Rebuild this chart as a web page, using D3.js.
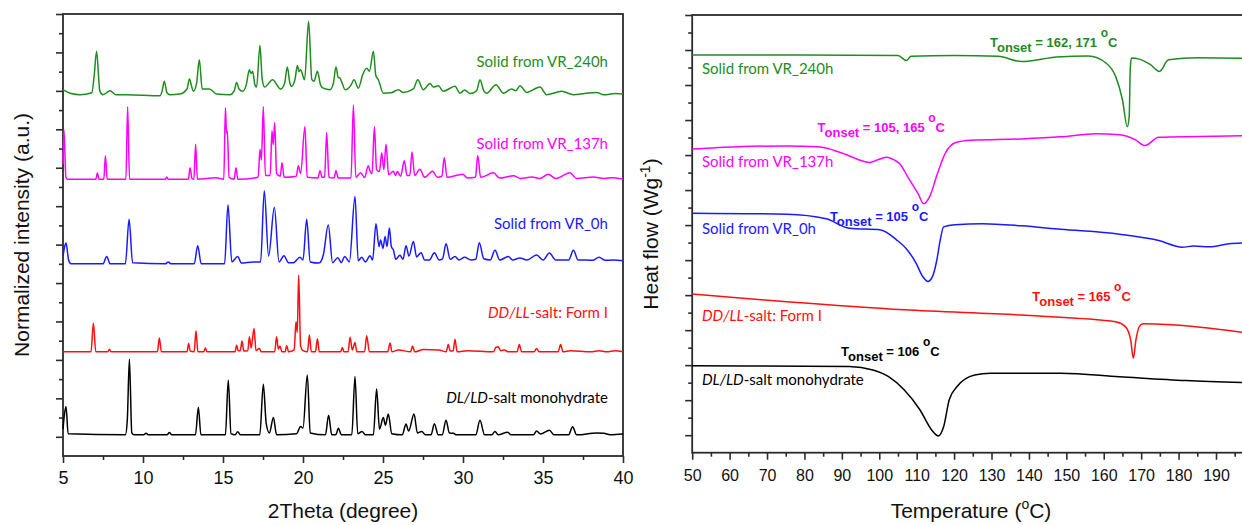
<!DOCTYPE html>
<html>
<head>
<meta charset="utf-8">
<script src="https://cdn.jsdelivr.net/npm/d3@7"></script>
<style>
  body { margin: 0; background: #fff; }
  text { font-family: Arial, "Liberation Sans", sans-serif; }
  .lbl { font-family: Lato, "Open Sans", sans-serif; }
</style>
</head>
<body>
<svg id="chart" width="1242" height="525"></svg>
<script>
'use strict';

// ---- XRD data: [2theta, intensity above the trace baseline] ----
const xrdBlack = [[5,1.5],[5.08,5],[5.19,7.4],[5.32,0.3],[8.9,0],[9.02,4],[9.15,19.7],[9.3,0.5],[9.45,0],[10.05,0],[10.19,0.4],[10.35,0],[11.5,0],[11.65,0.6],[11.8,0],[13.28,0],[13.46,7.2],[13.62,0],[15.15,0],[15.33,14.3],[15.5,0.3],[15.75,0],[15.92,0.8],[16.1,0],[17.3,0],[17.52,13.2],[17.7,3],[17.9,0.5],[18.15,4.5],[18.35,0],[19.6,0.3],[19.85,2.2],[20.0,1.8],[20.27,15.6],[20.45,0.5],[21.4,0],[21.6,5.1],[21.8,0],[22.05,0],[22.21,1.7],[22.4,0],[23.05,0],[23.25,15.2],[23.42,0.3],[23.69,0.9],[23.9,0],[24.4,0],[24.6,11.9],[24.78,1.5],[25.02,4.5],[25.15,2.5],[25.33,5.4],[25.55,0.3],[26.2,0],[26.44,2.8],[26.6,1.0],[26.94,5.4],[27.15,0.5],[27.42,0.9],[27.65,0],[28.0,0],[28.21,2.9],[28.45,0],[28.7,0],[28.94,3.8],[29.15,0.5],[29.4,0.4],[29.6,0],[30.8,0],[31.06,3.8],[31.35,0],[31.8,0],[32.0,0.9],[32.2,0],[32.79,0.7],[33.0,0],[34.4,0],[34.6,1.0],[34.85,0.2],[35.4,1.2],[35.7,0],[36.6,0],[36.85,2.1],[37.1,0],[38.35,0.5],[38.8,0.4],[39.2,0],[40,0.2]];

const xrdRed = [[5,0],[6.75,0],[6.9,7.5],[7.05,0],[7.8,0],[7.9,0.7],[8.0,0],[10.9,0],[11.02,3.6],[11.15,0],[12.75,0],[12.85,2.2],[12.95,0.2],[13.2,0],[13.31,5.5],[13.43,0],[13.8,0],[13.9,1.0],[14.0,0],[15.75,0],[15.85,1.7],[15.95,0.3],[16.08,0.3],[16.19,2.8],[16.3,0.2],[16.55,0.3],[16.65,3.9],[16.76,1],[16.94,6.1],[17.06,0.3],[17.27,0.9],[17.4,0],[18.23,0],[18.35,3.9],[18.46,0.7],[18.56,1.5],[18.68,0],[18.88,0],[18.98,1.6],[19.1,0],[19.45,0.5],[19.56,7.8],[19.64,5],[19.73,20],[19.85,1.5],[20.0,0.3],[20.28,0],[20.4,4.4],[20.52,0],[20.78,0],[20.9,3.4],[21.02,0],[22.35,0],[22.46,1.1],[22.56,0],[22.82,0],[22.94,3.8],[23.08,0.5],[23.25,2.4],[23.37,0],[23.85,0],[23.98,4.2],[24.15,0],[25.3,0],[25.44,2.3],[25.56,0],[25.96,0.5],[26.72,0],[26.85,1.5],[26.98,0],[27.52,0.6],[28.48,0.5],[28.95,0],[29.08,1.9],[29.2,0.2],[29.38,0.2],[29.5,3.3],[29.63,0],[30.27,0.3],[31.9,0],[32.06,1.2],[32.2,1.3],[32.35,0.3],[32.6,0.5],[32.8,0],[33.38,0],[33.52,1.9],[33.66,0],[34.45,0],[34.6,0.9],[34.75,0],[35.95,0],[36.1,1.9],[36.25,0],[36.7,0.3],[38,0],[38.5,0.3],[39,0],[39.5,0.3],[40,0]];

const xrdBlue = [[5,2],[5.08,4],[5.19,5.4],[5.35,1],[5.5,0],[7.5,0],[7.73,1.9],[7.95,0],[8.9,0],[9.13,11.6],[9.35,0.3],[11.4,0],[11.58,0.5],[11.75,0],[13.2,0],[13.42,4.7],[13.64,0],[15.1,0],[15.31,15.4],[15.55,0.5],[15.92,1.9],[16.15,0.2],[16.9,0.5],[17.35,0.5],[17.58,19],[17.85,2],[18.21,14.7],[18.5,0.5],[18.81,2.1],[19.1,0.3],[19.4,0.3],[19.81,1.7],[20.0,1],[20.23,11.6],[20.45,0.5],[21.0,0.2],[21.27,2.3],[21.58,10.1],[21.85,0.3],[22.17,1.6],[22.4,0.3],[22.6,1.9],[22.9,0.5],[23.25,17.5],[23.45,0.8],[23.67,1.7],[23.9,0.5],[24.19,2.1],[24.35,1],[24.56,10.4],[24.75,4.5],[24.85,6.2],[25.0,4],[25.13,7.1],[25.25,4.5],[25.4,9.3],[25.52,4.5],[25.65,3.6],[25.8,1.2],[26.06,2.2],[26.25,1.2],[26.44,4.7],[26.62,2],[26.9,5.8],[27.1,1.8],[27.38,2.9],[27.6,1],[27.9,1],[28.21,2.9],[28.5,1],[28.72,1.3],[28.94,5.2],[29.2,1.2],[29.5,1.9],[29.75,1],[30.1,1.7],[30.5,1],[30.8,1.2],[31.02,5.5],[31.3,1.3],[31.7,1],[32.0,3.5],[32.3,1],[32.83,1.9],[33.1,1],[33.56,1.5],[34.0,1],[34.6,2.3],[35.0,1],[35.4,2.8],[35.8,1],[36.6,1],[36.9,3.5],[37.2,1],[37.7,1.0],[38.1,0.9],[38.5,1.7],[38.9,0.9],[39.4,1.0],[40,0.8]];

const xrdMagenta = [[5,4],[5.06,12.8],[5.18,0.5],[5.3,0],[7.05,0],[7.15,1.6],[7.25,0],[7.55,0],[7.65,6.1],[7.76,0],[8.93,0],[9.04,18.9],[9.16,0],[11.4,0],[11.48,0.6],[11.58,0],[12.84,0],[12.94,3.0],[13.06,0.2],[13.18,0],[13.29,9.1],[13.4,0],[14.56,0.4],[15.05,0],[15.15,18.6],[15.22,12],[15.27,12.6],[15.38,0.5],[15.7,0],[15.81,3.0],[15.92,0],[17.2,0.5],[17.31,7.8],[17.4,5],[17.52,18.9],[17.65,1],[17.95,1],[18.06,12.6],[18.14,9],[18.23,14.8],[18.35,1.5],[18.58,0.8],[18.69,4.3],[18.82,0.5],[19.58,0.8],[19.71,3.5],[19.85,1.5],[20.12,13.7],[20.26,0.5],[20.94,0.3],[21.06,2.2],[21.2,0.5],[21.35,0.5],[21.48,12.2],[21.62,0.5],[21.94,0.3],[22.06,2.2],[22.2,0.3],[23.0,0.3],[23.15,19.3],[23.3,0.5],[23.6,1.7],[23.85,0.5],[24.08,3.5],[24.2,2],[24.32,1.5],[24.46,13.7],[24.6,2.5],[24.78,2],[24.92,6.9],[25.05,2.5],[25.19,9.1],[25.35,1.2],[25.65,2.1],[25.78,1],[25.9,2.0],[26.1,0.8],[26.33,4.8],[26.5,1],[26.68,1],[26.81,7.1],[26.98,1],[27.31,2.6],[27.6,0.5],[28.1,2.1],[28.4,0.5],[28.68,0.8],[28.83,5.6],[29.0,0.5],[29.98,1.3],[30.3,0.3],[30.78,0.5],[30.92,6.2],[31.1,0.5],[31.9,1.7],[32.3,0.3],[33.15,0.9],[33.6,0.2],[34.3,0.6],[34.8,0.2],[35.33,1.3],[35.8,0.2],[36.69,1.7],[37.1,0.2],[38.15,0.6],[38.8,0.2],[39.4,0.4],[40,0]];

const xrdGreen = [[5,1.3],[5.5,0.3],[6.06,0],[6.8,0.5],[6.95,5],[7.1,11.3],[7.3,1],[7.5,0],[7.94,1.0],[8.3,0],[8.98,0],[11.06,-0.3],[11.2,1],[11.33,3.5],[11.5,0.5],[11.69,0],[12.3,0.2],[12.75,1.5],[12.9,4.1],[13.05,2],[13.15,0.9],[13.35,3],[13.52,9.1],[13.7,1.5],[14.15,1.5],[14.6,0.2],[15.44,0],[15.7,1],[15.85,3.2],[16.0,1.5],[16.23,0.9],[16.45,2.5],[16.65,6.5],[16.75,5.5],[16.85,6.1],[17.0,2.5],[17.1,2.0],[17.31,12.8],[17.45,4],[17.6,2.0],[18.1,3.9],[18.6,1.5],[18.85,3],[19.02,7.2],[19.18,3],[19.29,2.2],[19.5,4],[19.65,7.6],[19.75,6],[19.85,6.5],[20.1,3.9],[20.35,19.1],[20.55,4],[20.69,3.5],[20.9,6.1],[21.1,2.5],[21.27,1.7],[21.69,1.3],[21.9,3],[22.06,7.2],[22.2,4.5],[22.31,4.3],[22.45,3],[22.63,1.3],[23.0,2.5],[23.19,3.9],[23.46,1.7],[23.73,5.2],[23.98,6.9],[24.15,6.1],[24.4,11.3],[24.55,5],[24.71,3.9],[25.02,0.4],[25.5,0.5],[25.96,1.3],[26.27,0.6],[26.9,1.5],[27.17,3.9],[27.52,1.3],[27.94,2.9],[28.15,2.0],[28.46,2.3],[28.77,0.9],[29.5,2.2],[29.81,0.4],[30.1,1.2],[30.44,0.3],[30.85,1],[31.06,3.9],[31.3,1],[31.48,0.4],[32.06,2.6],[32.52,0.4],[33.04,1.5],[33.3,1],[33.56,2.3],[33.98,0.6],[34.81,2.0],[35.23,0],[36.17,0.9],[36.9,0],[37.6,0.3],[38.35,0.6],[38.8,0],[39.5,0.3],[40,0.2]];

// stacking offsets of the XRD traces (a.u.)
const xrdOffsets = [5.5, 27.1, 50, 72, 94];

// ---- DSC data: [temperature degC, heat flow a.u.] ----
const dscBlack = [[50,24.8],[92,24.6],[98.3,23.6],[102.5,21.7],[106.7,17.9],[110.9,12.2],[114,6.5],[115.8,4.8],[117.2,7.4],[118.7,15.1],[120.8,18.9],[125.5,22.2],[129.7,22.7],[148.5,22.7],[164.2,21.7],[182,20.6],[197.5,20]];
const dscRed = [[50,45.3],[75.3,43.1],[106.7,40.8],[138,39.3],[159,37.9],[163.2,37.4],[165.8,36],[167.2,32.2],[167.9,27],[168.6,32.2],[169.5,36],[170.5,36.8],[197.5,34.3]];
const dscBlue = [[50,68.4],[75.3,68.1],[85.8,66.8],[92,64.1],[100.4,63.6],[104.6,60.8],[107.5,57.9],[109.8,54.2],[111.5,50.5],[113,48.9],[114.3,50.5],[115.4,55.1],[116.3,60.8],[117.2,64.5],[120.3,65.1],[127.6,65.4],[138,64.8],[148.5,63.8],[164.2,62.4],[174.7,60.6],[181,58.7],[184,59.0],[188.3,58.8],[193.5,59.7],[197.5,59.9]];
const dscMagenta = [[50,86.7],[62,87.4],[75.3,87.6],[83.7,87.4],[90,85.6],[96.2,83.1],[97.3,82.9],[100,83.8],[102,84.4],[104,83.6],[105.6,82.4],[107.7,78.6],[110.4,73.9],[111.9,71.1],[113.5,73.2],[115.6,79.9],[117.7,85.6],[120.3,88.5],[124.5,89.2],[138,89.6],[148.5,90.2],[158,91.1],[164.2,90.8],[168.4,89.4],[171,87.7],[174.7,90.1],[185.1,90.3],[197.5,90.5]];
const dscGreen = [[50,113.6],[80,113.6],[105,113.4],[107.3,112],[108.5,113.2],[120,113.4],[131.8,113.2],[138,111.7],[147.5,113],[155.9,113.3],[160.6,111.3],[163.2,107.4],[165,100.8],[166.3,93.1],[166.8,96],[167.1,110],[167.4,112.7],[169.5,112.4],[172.5,110.8],[174.9,108.9],[177.3,112.2],[185,112.8],[197.5,112.6]];

// ---- labels ----
const sampleNames = [
  [{t: 'DL/LD', i: true}, {t: '-salt monohydrate'}],
  [{t: 'DD/LL', i: true}, {t: '-salt: Form I'}],
  [{t: 'Solid from VR_0h'}],
  [{t: 'Solid from VR_137h'}],
  [{t: 'Solid from VR_240h'}]
];
const onsetValues = ['106', '165', '105', '105, 165', '162, 171'];
const colors = ['#000000', '#ff1010', '#1a1aff', '#ff00ff', '#1f8c1f'];

const xrdTicks = [5, 10, 15, 20, 25, 30, 35, 40];
const xrdMinor = [7.5, 12.5, 17.5, 22.5, 27.5, 32.5, 37.5];
const dscTicks = d3.range(50, 200, 10);
const dscMinor = d3.range(55, 200, 10);
const yMajor = d3.range(5, 130, 10);
const yMinor = d3.range(10, 130, 10);

// label anchors in data units
const xrdLabelAt = [[39.06, 13.8], [39.06, 35.9], [39.06, 59.1], [39.06, 79.9], [39.06, 101.2]];
const dscLabelAt = [[52.6, 19.3], [52.6, 37.6], [52.6, 62.5], [52.6, 81.6], [52.6, 108.2]];
const onsetAt = [[89.8, 27.5], [140.9, 43.2], [86.8, 66.1], [83.5, 91.6], [129.6, 115.9]];

const svg = d3.select('#chart');
svg.append('rect').attr('width', 1242).attr('height', 525).attr('fill', '#fff');

const frameColor = '#2b2b2b';

// ---- scales ----
const xX = d3.scaleLinear().domain([5, 40]).range([63, 623]);
const yX = d3.scaleLinear().domain([0, 115]).range([456, 14]);
const xD = d3.scaleLinear().domain([50, 200]).range([692.2, 1253.4]);
const yD = d3.scaleLinear().domain([0, 125]).range([452.7, 15]);

function drawFrame(x, y, xt, xm, ymax, fontSize, pad) {
  const g = svg.append('g');
  const bottom = y.range()[0];
  const left = x.range()[0];

  const ax = g.append('g').attr('transform', `translate(0,${bottom})`)
    .call(d3.axisBottom(x).tickValues(xt).tickSizeInner(7).tickSizeOuter(0)
      .tickPadding(pad).tickFormat(d3.format('d')));
  ax.select('.domain').remove();
  ax.selectAll('text').attr('font-size', fontSize).attr('font-family', 'Arial, "Liberation Sans", sans-serif').attr('fill', '#111');

  const am = g.append('g').attr('transform', `translate(0,${bottom})`)
    .call(d3.axisBottom(x).tickValues(xm).tickSizeInner(4).tickSizeOuter(0).tickFormat(''));
  am.select('.domain').remove();

  const ay = g.append('g').attr('transform', `translate(${left},0)`)
    .call(d3.axisLeft(y).tickValues(yMajor.filter(v => v <= ymax)).tickSizeInner(7).tickSizeOuter(0).tickFormat(''));
  ay.select('.domain').remove();
  const ayMinor = g.append('g').attr('transform', `translate(${left},0)`)
    .call(d3.axisLeft(y).tickValues(yMinor.filter(v => v < ymax)).tickSizeInner(4).tickSizeOuter(0).tickFormat(''));
  ayMinor.select('.domain').remove();

  g.selectAll('.tick line').attr('stroke', frameColor).attr('stroke-width', 1.6);

  g.append('rect')
    .attr('x', x.range()[0]).attr('y', y.range()[1])
    .attr('width', x.range()[1] - x.range()[0])
    .attr('height', y.range()[0] - y.range()[1])
    .attr('fill', 'none').attr('stroke', frameColor).attr('stroke-width', 1.8);
}

drawFrame(xX, yX, xrdTicks, xrdMinor, 115, 18, 8);
drawFrame(xD, yD, dscTicks, dscMinor, 125, 16, 10);

// ---- XRD traces ----
const xrdData = [xrdBlack, xrdRed, xrdBlue, xrdMagenta, xrdGreen];
xrdData.forEach((series, i) => {
  const line = d3.line()
    .x(d => xX(d[0]))
    .y(d => yX(xrdOffsets[i] + d[1]))
    .curve(d3.curveMonotoneX);
  svg.append('path')
    .datum(series)
    .attr('d', line)
    .attr('fill', 'none')
    .attr('stroke', colors[i])
    .attr('stroke-width', 1.5)
    .attr('stroke-linejoin', 'round');
});

// ---- DSC traces ----
const dscData = [dscBlack, dscRed, dscBlue, dscMagenta, dscGreen];
const dscLine = d3.line().x(d => xD(d[0])).y(d => yD(d[1])).curve(d3.curveMonotoneX);
svg.append('g')
  .selectAll('path')
  .data(dscData)
  .enter().append('path')
  .attr('d', dscLine)
  .attr('fill', 'none')
  .attr('stroke', (d, i) => colors[i])
  .attr('stroke-width', 1.5);

// ---- sample labels ----
function sampleLabel(x, y, parts, color, anchor) {
  const t = svg.append('text')
    .attr('class', 'lbl')
    .attr('x', x).attr('y', y)
    .attr('font-size', 15)
    .attr('fill', color)
    .attr('text-anchor', anchor);
  parts.forEach(p => {
    t.append('tspan').attr('font-style', p.i ? 'italic' : 'normal').text(p.t);
  });
}
sampleNames.forEach((parts, i) => {
  sampleLabel(xX(xrdLabelAt[i][0]), yX(xrdLabelAt[i][1]), parts, colors[i], 'end');
  sampleLabel(xD(dscLabelAt[i][0]), yD(dscLabelAt[i][1]), parts, colors[i], 'start');
});

// ---- T onset annotations ----
onsetValues.forEach((v, i) => {
  const t = svg.append('text')
    .attr('x', xD(onsetAt[i][0])).attr('y', yD(onsetAt[i][1]))
    .attr('font-size', 13).attr('font-weight', 'bold')
    .attr('fill', colors[i]);
  t.append('tspan').text('T');
  t.append('tspan').attr('dy', 5).text('onset');
  t.append('tspan').attr('dy', -5).text(' = ' + v + ' ');
  t.append('tspan').attr('dy', -10).attr('font-size', 12).text('o');
  t.append('tspan').attr('dy', 10).text('C');
});

// ---- axis titles ----
svg.append('text')
  .attr('x', 343).attr('y', 518)
  .attr('text-anchor', 'middle').attr('font-size', 21).attr('fill', '#111')
  .text('2Theta (degree)');

const tt = svg.append('text')
  .attr('x', 971).attr('y', 518)
  .attr('text-anchor', 'middle').attr('font-size', 21).attr('fill', '#111');
tt.append('tspan').text('Temperature (');
tt.append('tspan').attr('dy', -9).attr('font-size', 14).text('o');
tt.append('tspan').attr('dy', 9).text('C)');

svg.append('text')
  .attr('transform', 'translate(29,235) rotate(-90)')
  .attr('text-anchor', 'middle').attr('font-size', 21).attr('fill', '#111')
  .text('Normalized intensity (a.u.)');

const hf = svg.append('text')
  .attr('transform', 'translate(658,234) rotate(-90)')
  .attr('text-anchor', 'middle').attr('font-size', 21).attr('fill', '#111');
hf.append('tspan').text('Heat flow (Wg');
hf.append('tspan').attr('dy', -8).attr('font-size', 14).text('-1');
hf.append('tspan').attr('dy', 8).text(')');
</script>
</body>
</html>
